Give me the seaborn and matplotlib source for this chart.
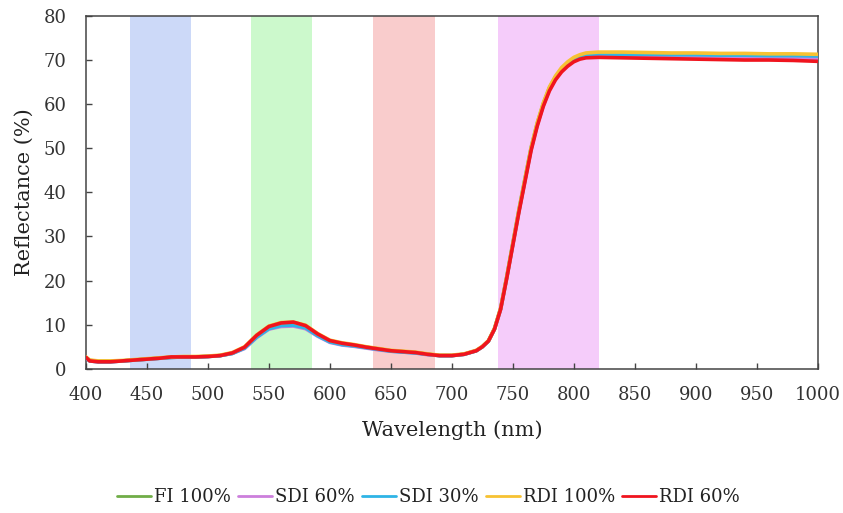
import numpy as np
import pandas as pd
import matplotlib
matplotlib.use("Agg")
import matplotlib.pyplot as plt
import seaborn as sns

wavelength = [400, 403, 410, 420, 430, 440, 450, 460, 470, 480, 490, 500, 510, 520, 530, 540,
              550, 560, 570, 580, 590, 600, 610, 620, 630, 640, 650, 660, 670, 680, 690, 700,
              710, 720, 725, 730, 735, 740, 745, 750, 755, 760, 765, 770, 775, 780, 785, 790,
              795, 800, 805, 810, 820, 840, 860, 880, 900, 920, 940, 960, 980, 1000]

fi_100 = [2.6, 1.9, 1.7, 1.7, 1.8, 2.0, 2.2, 2.4, 2.6, 2.7, 2.7, 2.8, 3.0, 3.5, 4.8, 7.4,
          9.4, 10.1, 10.2, 9.5, 7.7, 6.2, 5.6, 5.3, 4.9, 4.5, 4.1, 3.9, 3.7, 3.3, 3.0, 3.0,
          3.3, 4.1, 5.0, 6.3, 9.1, 13.6, 20.7, 28.3, 35.8, 42.9, 49.9, 55.4, 59.9, 63.5, 66.0, 67.8,
          69.1, 70.1, 70.7, 71.0, 71.1, 71.0, 71.0, 70.9, 70.9, 70.8, 70.8, 70.7, 70.7, 70.5]

sdi_60 = [2.5, 1.8, 1.6, 1.6, 1.8, 2.0, 2.2, 2.4, 2.6, 2.7, 2.7, 2.8, 3.0, 3.5, 4.6, 7.1,
          9.0, 9.6, 9.7, 9.1, 7.4, 6.0, 5.4, 5.1, 4.7, 4.3, 4.0, 3.8, 3.6, 3.2, 3.0, 3.0,
          3.3, 4.1, 5.0, 6.3, 9.0, 13.5, 20.6, 28.1, 35.7, 42.7, 49.7, 55.2, 59.7, 63.3, 65.8, 67.6,
          68.9, 69.9, 70.5, 70.8, 70.9, 70.8, 70.8, 70.7, 70.7, 70.6, 70.6, 70.5, 70.5, 70.4]

sdi_30 = [2.5, 1.8, 1.6, 1.6, 1.8, 2.0, 2.2, 2.4, 2.6, 2.7, 2.7, 2.8, 3.0, 3.5, 4.7, 7.2,
          9.1, 9.8, 9.9, 9.3, 7.5, 6.1, 5.5, 5.2, 4.8, 4.4, 4.0, 3.8, 3.6, 3.3, 3.0, 3.0,
          3.3, 4.1, 5.0, 6.3, 9.1, 13.7, 20.8, 28.4, 36.0, 43.1, 50.1, 55.6, 60.1, 63.7, 66.2, 68.0,
          69.3, 70.3, 70.9, 71.2, 71.4, 71.3, 71.3, 71.2, 71.2, 71.1, 71.1, 71.0, 71.0, 70.9]

rdi_100 = [2.7, 2.0, 1.8, 1.8, 1.9, 2.1, 2.3, 2.5, 2.7, 2.8, 2.8, 2.9, 3.1, 3.7, 5.0, 7.7,
           9.7, 10.5, 10.6, 9.9, 8.0, 6.5, 5.9, 5.5, 5.0, 4.6, 4.2, 4.0, 3.8, 3.4, 3.1, 3.1,
           3.4, 4.2, 5.1, 6.4, 9.2, 13.8, 20.9, 28.5, 36.1, 43.2, 50.2, 55.8, 60.3, 63.9, 66.4, 68.3,
           69.6, 70.6, 71.2, 71.6, 71.8, 71.8, 71.7, 71.6, 71.6, 71.5, 71.5, 71.4, 71.4, 71.3]

rdi_60 = [2.6, 1.8, 1.6, 1.6, 1.8, 2.0, 2.2, 2.4, 2.7, 2.7, 2.7, 2.8, 3.0, 3.6, 4.9, 7.6,
          9.6, 10.4, 10.6, 9.8, 7.9, 6.4, 5.8, 5.4, 4.9, 4.5, 4.1, 3.9, 3.7, 3.3, 3.0, 3.0,
          3.3, 4.1, 5.0, 6.3, 9.0, 13.5, 20.5, 28.0, 35.5, 42.5, 49.5, 55.0, 59.5, 63.0, 65.5, 67.3,
          68.6, 69.6, 70.2, 70.5, 70.6, 70.5, 70.4, 70.3, 70.2, 70.1, 70.0, 70.0, 69.9, 69.7]

series_names = ["FI 100%", "SDI 60%", "SDI 30%", "RDI 100%", "RDI 60%"]
series_values = [fi_100, sdi_60, sdi_30, rdi_100, rdi_60]
series_colors = ["#70ad47", "#cc7fdc", "#2fb4e6", "#f7c232", "#f0141e"]

band_edges = [(436, 486), (535, 585), (635, 686), (738, 821)]
band_colors = ["#ccd9f8", "#ccf9cc", "#f9cccc", "#f5ccfa"]

x_ticks = [400, 450, 500, 550, 600, 650, 700, 750, 800, 850, 900, 950, 1000]
y_ticks = [0, 10, 20, 30, 40, 50, 60, 70, 80]

df = pd.concat([pd.DataFrame({"Wavelength": wavelength, "Reflectance": v, "Series": n})
                for n, v in zip(series_names, series_values)], ignore_index=True)

sns.set_style("ticks")
plt.rcParams["font.family"] = ["DejaVu Serif"]

fig = plt.figure(figsize=(8.43, 5.13), dpi=100)
ax = fig.add_axes([0.102, 0.281, 0.868, 0.688])

for (a, b), c in zip(band_edges, band_colors):
    ax.axvspan(a, b, color=c, lw=0, zorder=0)

sns.lineplot(data=df, x="Wavelength", y="Reflectance", hue="Series",
             hue_order=series_names, palette=dict(zip(series_names, series_colors)),
             linewidth=2.6, ax=ax, legend=True, zorder=3)

ax.set_xlim(400, 1000)
ax.set_ylim(0, 80)
ax.set_xticks(x_ticks)
ax.set_yticks(y_ticks)
ax.tick_params(axis="both", direction="in", length=4, width=1, colors="#444444",
               labelsize=13, labelcolor="#333333")
ax.tick_params(axis="y", pad=14)
ax.tick_params(axis="x", pad=12)
for s in ax.spines.values():
    s.set_color("#444444")
    s.set_linewidth(1.1)
ax.set_xlabel("Wavelength (nm)", fontsize=15, color="#222222", labelpad=12)
ax.set_ylabel("Reflectance (%)", fontsize=15, color="#222222", labelpad=7)

handles, labels = ax.get_legend_handles_labels()
ax.get_legend().remove()
leg = fig.legend(handles, labels, loc="center", bbox_to_anchor=(0.508, 0.031), ncol=5,
                 frameon=False, fontsize=13, handlelength=1.9, handletextpad=0.15,
                 columnspacing=0.4, labelcolor="#222222")
for h in leg.get_lines():
    h.set_linewidth(2.0)

fig.savefig("out.png", dpi=100)
